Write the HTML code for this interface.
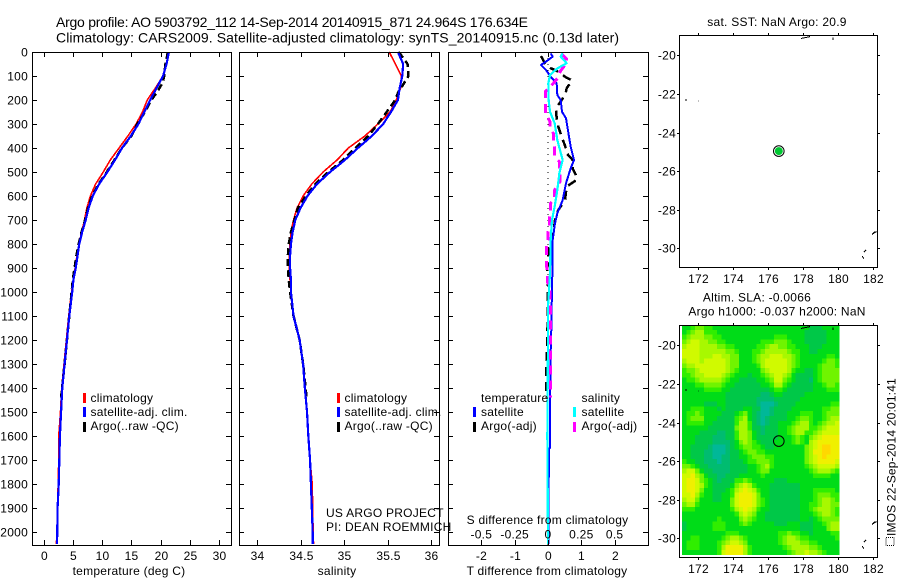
<!DOCTYPE html>
<html><head><meta charset="utf-8">
<style>
html,body{margin:0;padding:0;background:#fff}
svg{display:block}
text{font-family:"Liberation Sans",sans-serif;font-size:12px;letter-spacing:.25px;fill:#000}
</style></head>
<body>
<svg id="root" xmlns="http://www.w3.org/2000/svg" width="900" height="580" viewBox="0 0 900 580">
  <rect width="900" height="580" fill="#fff"/>
  <text x="56" y="27" textLength="472" style="font-size:14px;letter-spacing:0">Argo profile: AO 5903792_112 14-Sep-2014 20140915_871 24.964S 176.634E</text>
  <text x="56" y="42.5" textLength="563" style="font-size:14px;letter-spacing:0">Climatology: CARS2009. Satellite-adjusted climatology: synTS_20140915.nc (0.13d later)</text>

  <g id="p1"></g>
  <g id="p2"></g>
  <g id="p3"></g>
  <g id="m1"></g>
  <g id="m2"></g>

  <text x="129" y="575" text-anchor="middle">temperature (deg C)</text>
  <text x="337" y="575" text-anchor="middle">salinity</text>
  <text x="547" y="575" text-anchor="middle">T difference from climatology</text>
  <text x="547.5" y="524" text-anchor="middle">S difference from climatology</text>

  <g>
    <rect x="83" y="393" width="3" height="10" fill="#f00"/>
    <text x="90.5" y="402">climatology</text>
    <rect x="83" y="407" width="3" height="10" fill="#00f"/>
    <text x="90.5" y="416">satellite-adj. clim.</text>
    <rect x="83" y="422" width="3" height="10" fill="#000"/>
    <text x="90.5" y="430">Argo(..raw -QC)</text>
  </g>
  <g>
    <rect x="337" y="393" width="3" height="10" fill="#f00"/>
    <text x="344.5" y="402">climatology</text>
    <rect x="337" y="407" width="3" height="10" fill="#00f"/>
    <text x="344.5" y="416">satellite-adj. clim.</text>
    <rect x="337" y="422" width="3" height="10" fill="#000"/>
    <text x="344.5" y="430">Argo(..raw -QC)</text>
  </g>
  <text x="326" y="517">US ARGO PROJECT</text>
  <text x="326" y="531">PI: DEAN ROEMMICH</text>

  <g id="difflegend">
    <text x="481" y="402">temperature</text>
    <rect x="473" y="407" width="3" height="10" fill="#00f"/>
    <text x="481" y="416">satellite</text>
    <rect x="473" y="422" width="3" height="10" fill="#000"/>
    <text x="481" y="430">Argo(-adj)</text>
    <text x="581.5" y="402">salinity</text>
    <rect x="573" y="407" width="3" height="10" fill="#0ff"/>
    <text x="581.5" y="416">satellite</text>
    <rect x="573" y="422" width="3" height="10" fill="#f0f"/>
    <text x="581.5" y="430">Argo(-adj)</text>
  </g>

  <text x="777" y="26" text-anchor="middle">sat. SST: NaN Argo: 20.9</text>
  <text x="757" y="301.5" text-anchor="middle">Altim. SLA: -0.0066</text>
  <text x="777" y="315.5" text-anchor="middle">Argo h1000: -0.037 h2000: NaN</text>

  <g transform="translate(895.5,546) rotate(-90)">
    <rect x="0.5" y="-9.5" width="8" height="8" fill="none" stroke="#000" stroke-width="1" stroke-dasharray="1 1"/>
    <text x="10" y="0" textLength="158">IMOS 22-Sep-2014 20:01:41</text>
  </g>
</svg>
<script>
// ---- profile data (depth in m) ----
const depthLevels = [0,50,100,150,200,250,300,350,400,450,500,550,600,650,700,750,800,850,900,950,1000,1100,1200,1300,1400,1500,1600,1700,1800,1900,2000,2050];
const tempClim = [21.3,21.0,20.4,19.1,17.7,16.9,15.8,14.4,12.9,11.4,10.2,8.9,8.0,7.4,7.0,6.5,6.1,5.7,5.4,5.1,4.8,4.3,3.9,3.5,3.1,2.9,2.6,2.6,2.5,2.4,2.3,2.2];
const tempSat = [21.4,21.0,20.4,19.3,18.2,17.2,16.2,14.9,13.4,12.2,10.9,9.5,8.4,7.7,7.2,6.6,6.1,5.8,5.5,5.1,4.9,4.4,4.0,3.6,3.2,3.0,2.8,2.7,2.6,2.4,2.35,2.3];
const salClim = [35.52,35.59,35.66,35.65,35.60,35.53,35.39,35.24,35.05,34.92,34.76,34.63,34.53,34.46,34.42,34.39,34.38,34.37,34.37,34.38,34.39,34.42,34.49,34.53,34.55,34.575,34.59,34.61,34.635,34.64,34.645,34.65];
const salSat = [35.62,35.68,35.67,35.64,35.62,35.54,35.45,35.32,35.16,35.01,34.84,34.69,34.58,34.50,34.44,34.41,34.39,34.38,34.38,34.39,34.39,34.42,34.49,34.53,34.55,34.575,34.59,34.61,34.62,34.63,34.64,34.64];
const argoDepths = [0,30,50,100,130,170,200,250,300,350,400,450,500,550,600,650,700,750,800,850,900,950,1000,1100,1200,1300,1440];
const tempArgo = [21.2,21.0,20.8,20.6,20.3,19.3,18.4,17.3,16.0,15.0,13.4,12.1,10.8,9.4,8.3,7.6,7.1,6.5,6.0,5.6,5.3,5.0,4.8,4.4,4.0,3.6,3.0];
const salArgo = [35.63,35.69,35.73,35.74,35.69,35.62,35.59,35.49,35.39,35.28,35.13,34.99,34.82,34.67,34.56,34.47,34.43,34.39,34.365,34.355,34.355,34.365,34.38,34.42,34.49,34.53,34.57];

// ---- difference panel data ----
const satTDepths = [6,19,33,54,75,103,131,179,200,249,276,353,394,450,485,547,617,672,714,783,922,1061,1103,1300,1650,1651,2000,2050];
const satTDiff = [0.08,0.14,0.01,-0.21,-0.06,0.08,0.26,0.28,0.38,0.42,0.54,0.63,0.68,0.78,0.68,0.54,0.44,0.28,0.21,0.14,0.13,0.11,0.11,0.07,0.06,0.03,0.01,0.01];
const argoTDepths = [17,47,68,82,103,119,151,165,186,221,242,276,311,353,394,422,450,485,513,533,561,617,658,700,756,825,908,1000,1200,1340,1440];
const argoTDiff = [-0.21,-0.09,0.09,0.31,0.51,0.72,0.56,0.54,0.48,0.31,0.24,0.26,0.31,0.41,0.52,0.56,0.74,0.74,0.84,0.86,0.56,0.51,0.31,0.21,0.16,0.01,-0.02,0,-0.02,-0.06,-0.06];
const satSDepths = [6,19,47,68,96,131,200,249,297,367,450,506,575,644,700,783,922,1061,1200,1600,2050];
const satSDiff = [0.11,0.095,0.14,0.07,0.015,0.0025,0.005,0.015,0.05,0.07,0.11,0.085,0.07,0.05,0.03,0.02,0.015,0,0,-0.005,0];
const argoSDepths = [6,30,45,82,103,131,165,200,228,256,290,318,339,374,401,436,457,485,512,540,575,610,630,665,686,728,749,783,811,846,867,894,922,957,978,1019,1061,1103,1300,1440];
const argoSDiff = [0.10,0.14,0.14,0.09,0.08,0.04,-0.02,-0.02,-0.02,-0.02,0.015,0.015,0.04,0.04,0.05,0.05,0.085,0.085,0.09,0.09,0.05,0.05,0.02,0.02,0.01,0.01,0,0,-0.01,-0.01,-0.01,-0.01,-0.005,-0.005,0.015,0.015,0.02,0.02,0.02,0.02];

// ---- tick labels ----
const depthTicks = [0,100,200,300,400,500,600,700,800,900,1000,1100,1200,1300,1400,1500,1600,1700,1800,1900,2000];
const tempTicks = [0,5,10,15,20,25,30];
const salTicks = [34,34.5,35,35.5,36];
const tDiffTicks = [-2,-1,0,1,2];
const sDiffTicks = [-0.5,-0.25,0,0.25,0.5];
const lonTicks = [172,174,176,178,180,182];
const latTicks = [-20,-22,-24,-26,-28,-30];

// ---- map data ----
const floatLon = [176.634];
const floatLat = [-24.964];
const coastLons = [[177.9,178.2,178.42],[179.73,179.73],[171.27,171.39],[172.02,172.05],[181.96,182.1,182.19,182.0],[181.62,181.5],[181.4,181.5]];
const coastLats = [[-19.13,-19.07,-19.03],[-19.08,-19.2],[-22.32,-22.32],[-22.37,-22.37],[-29.3,-29.15,-29.15,-29.25],[-30.09,-30.2],[-30.4,-30.55]];
const slaPalette = ['#00b898','#00bc70','#00c848','#00dc18','#30ee00','#70f400','#a8f800','#d0fa00','#f0f000','#ffd800'];
const slaLevels = [
[3,3,4,5,5,4,4,3,3,3,3,3,3,3,3,3,3,3,3,3,3,3,3,3,3,3,3,3,3,2,2,2,3,3,3,3],
[3,4,5,6,6,4,4,4,3,3,3,3,3,3,3,3,3,3,3,3,3,3,3,3,3,3,3,3,2,2,2,2,2,3,3,3],
[4,5,6,6,6,5,5,4,4,3,3,3,3,3,3,3,3,3,3,3,3,4,4,4,3,3,3,3,2,2,2,2,2,3,3,3],
[5,6,7,7,6,6,5,5,4,4,3,3,3,3,3,3,3,3,4,4,4,5,5,5,4,3,3,3,2,2,2,2,2,3,3,3],
[6,7,7,7,6,6,6,6,5,5,4,4,3,3,3,3,3,4,4,5,6,6,5,5,4,4,3,3,3,2,2,2,3,3,3,3],
[7,7,7,7,6,6,6,6,6,6,5,5,4,3,3,3,4,4,5,6,6,6,6,6,5,4,4,3,3,2,2,3,3,3,3,3],
[7,7,7,7,6,6,6,7,7,6,6,5,5,3,3,3,4,5,6,6,7,7,7,6,6,5,4,3,3,3,3,3,3,4,4,3],
[6,7,7,7,6,7,7,7,7,7,6,5,5,3,3,3,4,5,6,7,7,7,7,7,6,5,4,3,3,3,3,3,4,5,5,4],
[5,6,6,7,7,7,7,7,7,7,6,5,5,3,3,3,3,4,6,7,7,7,7,7,6,5,4,3,3,3,3,4,5,5,5,4],
[4,5,5,6,7,7,7,7,7,7,6,5,4,3,3,3,3,3,5,6,7,7,7,7,6,4,3,3,2,2,3,4,5,5,5,5],
[4,4,5,6,6,7,7,7,7,6,5,4,3,3,3,2,3,3,4,5,6,7,7,6,5,3,2,2,2,2,3,4,5,5,5,5],
[3,4,4,5,6,6,6,6,6,5,4,3,3,2,2,2,2,3,3,4,5,7,7,5,4,3,2,2,2,1,3,4,5,5,5,5],
[3,3,3,4,4,5,5,5,5,4,3,3,2,2,2,2,2,2,3,3,4,6,6,4,3,2,2,2,2,2,3,3,4,5,5,4],
[3,3,3,3,3,4,4,4,4,3,3,2,2,2,2,2,2,2,2,2,3,4,4,3,2,2,2,2,2,2,3,3,3,4,4,4],
[3,3,3,3,3,3,3,3,3,3,2,2,2,2,2,2,2,2,1,1,2,3,3,2,2,2,2,2,3,3,3,3,3,3,3,3],
[3,3,3,3,3,3,3,3,3,3,2,2,2,2,2,2,2,1,1,1,1,2,2,2,2,2,2,3,3,3,3,3,3,3,3,3],
[3,3,3,3,3,2,2,2,3,3,2,2,2,2,2,2,2,1,0,0,0,1,2,2,2,2,3,3,3,3,3,3,3,3,4,4],
[3,3,4,4,4,3,3,3,2,3,2,2,2,2,3,3,2,2,0,0,1,2,2,2,2,3,3,3,3,3,3,3,4,4,5,5],
[3,4,4,5,4,3,3,3,3,2,2,2,3,4,5,3,2,1,0,0,1,2,2,2,3,3,3,4,4,4,3,3,4,5,5,5],
[3,4,5,5,5,3,3,3,2,2,2,2,4,5,6,3,2,1,0,1,2,2,2,2,3,3,4,5,5,4,3,3,4,5,6,6],
[3,4,4,4,4,3,3,2,2,2,2,2,4,6,6,4,2,1,0,1,2,2,3,3,3,4,5,6,6,4,3,4,5,6,6,7],
[3,3,3,3,3,3,2,2,2,2,2,2,5,6,6,4,2,2,1,2,2,2,3,3,4,5,6,6,6,4,4,5,6,7,7,7],
[3,3,3,3,2,2,2,2,1,1,2,2,4,6,6,5,3,2,1,2,2,2,3,3,4,5,6,6,4,4,5,6,7,7,7,7],
[3,3,3,2,2,2,2,1,1,1,2,2,4,6,6,5,3,2,2,2,2,2,3,3,3,4,5,4,3,5,6,7,8,8,8,8],
[3,3,3,2,2,2,2,1,1,1,1,2,3,5,6,5,4,3,2,2,2,3,3,3,3,4,5,4,3,6,7,8,8,8,8,8],
[3,3,2,2,2,2,1,0,0,0,1,2,3,4,5,5,4,4,3,2,2,3,3,3,3,3,3,3,5,6,7,8,9,9,8,8],
[3,3,2,2,2,1,1,0,0,0,1,2,2,3,4,5,5,4,4,3,3,3,3,3,3,3,3,3,5,6,8,8,9,9,8,8],
[3,3,2,2,2,1,1,0,0,1,1,2,2,3,3,4,5,5,5,4,4,3,3,3,3,3,3,3,5,6,7,8,9,8,8,8],
[4,3,3,2,2,1,1,1,0,1,1,2,2,2,3,4,4,5,5,5,4,3,3,3,3,3,3,3,5,6,7,8,8,8,8,7],
[5,5,4,3,2,2,1,1,1,1,1,2,2,2,2,3,3,4,5,6,4,3,3,3,3,3,3,3,4,5,6,7,7,7,7,6],
[6,7,7,5,3,2,2,1,1,1,1,2,2,2,2,3,3,4,5,5,3,3,3,3,3,3,3,3,3,4,5,6,6,6,5,4],
[7,7,8,6,5,3,2,2,1,1,2,2,2,3,3,3,3,3,4,3,3,3,3,3,3,3,3,3,3,3,4,4,4,4,3,3],
[7,8,8,7,5,4,3,2,1,2,2,2,4,4,5,4,3,3,3,3,3,2,2,2,3,3,3,3,3,3,3,3,3,3,3,3],
[7,8,8,7,6,4,3,2,2,2,2,3,5,6,7,6,4,3,3,3,2,2,2,2,2,2,2,3,3,3,3,3,3,3,3,3],
[7,8,8,7,5,3,3,2,2,2,3,4,6,7,8,7,6,4,3,3,2,2,2,2,2,2,2,3,3,3,4,4,4,4,4,3],
[7,7,8,6,4,3,3,2,2,3,3,4,7,8,8,8,7,5,3,3,2,2,2,2,2,2,2,3,3,3,4,5,5,5,4,4],
[6,7,7,5,3,3,3,2,2,3,3,5,7,8,8,8,7,5,4,3,2,2,2,2,2,2,2,3,3,3,4,5,6,6,5,4],
[5,6,6,4,3,3,3,3,3,3,3,5,7,8,8,8,7,5,4,3,2,2,2,2,2,2,2,3,3,4,4,5,6,6,5,5],
[4,4,4,3,3,3,3,3,3,3,3,4,6,7,8,7,6,4,3,3,2,2,2,2,2,2,2,3,3,4,5,6,6,6,5,4],
[3,3,3,3,3,3,3,3,3,3,3,3,4,6,7,6,5,3,3,2,2,2,2,2,2,2,2,3,3,3,4,5,6,6,5,4],
[3,3,3,3,3,3,3,3,4,3,3,3,3,5,6,5,4,3,3,2,2,2,2,2,2,2,2,3,3,2,3,4,5,5,5,5],
[2,3,3,3,3,3,3,4,4,4,3,3,3,4,5,4,3,3,3,3,3,2,2,2,3,3,3,2,2,2,3,3,4,5,6,6],
[2,3,3,3,3,3,3,4,4,4,3,3,3,3,3,3,3,3,3,3,3,3,3,3,3,3,3,2,2,2,3,3,3,5,6,6],
[3,3,3,3,3,3,3,3,3,3,4,4,4,3,3,3,3,3,3,3,3,3,4,4,5,4,4,3,3,2,3,3,3,3,4,4],
[3,3,4,4,3,3,3,3,3,4,5,6,6,5,4,3,3,3,3,3,3,3,4,5,6,6,5,4,4,3,3,3,3,3,3,4],
[3,4,4,4,3,3,3,3,4,5,6,7,7,6,5,3,3,3,3,3,3,3,4,5,6,6,6,5,5,4,4,3,3,3,3,3],
[3,4,4,4,3,3,3,3,4,6,8,8,8,8,6,4,3,3,3,3,3,3,3,4,5,6,6,6,6,5,5,4,3,3,3,3],
[3,3,3,3,3,3,3,3,4,7,8,8,8,8,6,4,3,3,3,3,3,3,3,3,4,5,6,6,7,6,6,5,4,3,3,3]
];

// ---- scales ----
const SVGNS = 'http://www.w3.org/2000/svg';
const yDepth = d => 52 + 0.24 * d;
const xTemp = v => 43.5 + 5.86 * v;
const xSal = v => 257 + 87 * (v - 34);
const xTDiff = v => 548 + 33.33 * v;
const xSDiff = v => 548 + 133.3 * v;
const xLon = v => 697.7 + (v - 172) * 17.5;
const yLatTop = v => 55.3 + (-20 - v) * 19.3;
const yLatBot = v => 345.3 + (-20 - v) * 19.3;

function mk(parent, tag, name, attrs) {
  const el = document.createElementNS(SVGNS, tag);
  for (const k in attrs) el.setAttribute(k, attrs[k]);
  
  
  parent.appendChild(el);
  return el;
}
function tickLine(parent, x1, y1, x2, y2) {
  mk(parent, 'line', 'tick', {x1, y1, x2, y2, stroke: '#000', 'stroke-width': 1, 'shape-rendering': 'crispEdges'});
}
function label(parent, x, y, str, anchor) {
  const t = mk(parent, 'text', 'tick-label', {x, y, 'text-anchor': anchor});
  t.textContent = str;
}
function box(parent, x, y, w, h) {
  mk(parent, 'rect', 'axes-box', {x: x + 0.5, y: y + 0.5, width: w, height: h, fill: 'none', stroke: '#000', 'stroke-width': 1, 'shape-rendering': 'crispEdges'});
}
function series(parent, name, xs, ys, xf, color, width, dash) {
  const pts = xs.map((v, i) => xf(v).toFixed(2) + ',' + yDepth(ys[i]).toFixed(2)).join(' ');
  const attrs = {points: pts, fill: 'none', stroke: color, 'stroke-width': width, 'shape-rendering': 'crispEdges', 'stroke-linejoin': 'round'};
  if (dash) attrs['stroke-dasharray'] = dash;
  mk(parent, 'polyline', name, attrs);
}
function depthAxes(parent, L, R, showLabels) {
  depthTicks.forEach(d => {
    const y = Math.round(yDepth(d)) + 0.5;
    tickLine(parent, L, y, L + 5, y);
    tickLine(parent, R - 5, y, R, y);
    if (showLabels) label(parent, 28, y + 4, String(d), 'end');
  });
}
function valueTicks(parent, ticks, xf, top, bottom, labelY) {
  ticks.forEach(v => {
    const x = Math.round(xf(v)) + 0.5;
    if (top) tickLine(parent, x, 52, x, 57);
    if (bottom) tickLine(parent, x, 540, x, 545);
    if (labelY) label(parent, x, labelY, String(v), 'middle');
  });
}

// ---- temperature panel ----
const p1 = document.getElementById('p1');
series(p1, 'temperature-climatology-line', tempClim, depthLevels, xTemp, '#f00', 1.6);
series(p1, 'temperature-argo-line', tempArgo, argoDepths, xTemp, '#000', 2.5, '7 4');
series(p1, 'temperature-satellite-line', tempSat, depthLevels, xTemp, '#00f', 2.2);
box(p1, 32, 52, 199, 493);
depthAxes(p1, 32, 231, true);
valueTicks(p1, tempTicks, xTemp, true, true, 560);

// ---- salinity panel ----
const p2 = document.getElementById('p2');
series(p2, 'salinity-climatology-line', salClim, depthLevels, xSal, '#f00', 1.6);
series(p2, 'salinity-argo-line', salArgo, argoDepths, xSal, '#000', 2.5, '7 4');
series(p2, 'salinity-satellite-line', salSat, depthLevels, xSal, '#00f', 2.2);
box(p2, 239, 52, 200, 493);
depthAxes(p2, 239, 439, false);
valueTicks(p2, salTicks, xSal, true, true, 560);

// ---- difference panel ----
const p3 = document.getElementById('p3');
mk(p3, 'line', 'zero-line', {x1: xTDiff(0), y1: yDepth(0), x2: xTDiff(0), y2: yDepth(2054), stroke: '#000', 'stroke-width': 1, 'stroke-dasharray': '1 5', 'shape-rendering': 'crispEdges'});
series(p3, 't-difference-argo-line', argoTDiff, argoTDepths, xTDiff, '#000', 2.5, '9 6');
series(p3, 't-difference-satellite-line', satTDiff, satTDepths, xTDiff, '#00f', 2);
series(p3, 's-difference-argo-line', argoSDiff, argoSDepths, xSDiff, '#f0f', 3, '9 6');
series(p3, 's-difference-satellite-line', satSDiff, satSDepths, xSDiff, '#0ff', 2.2);
box(p3, 448, 52, 200, 493);
depthAxes(p3, 448, 648, false);
valueTicks(p3, tDiffTicks, xTDiff, true, true, 560);
sDiffTicks.forEach(v => label(p3, xSDiff(v), 538.5, String(v), 'middle'));

// ---- maps ----
function mapFrame(parent, top, bottom, yLat) {
  box(parent, 679, top, 198, bottom - top);
  lonTicks.forEach(v => {
    const x = Math.round(xLon(v)) + 0.5;
    tickLine(parent, x, top - 2, x, top);
    tickLine(parent, x, bottom + 1, x, bottom + 3);
    label(parent, x, bottom + 16, String(v), 'middle');
  });
  latTicks.forEach(v => {
    const y = Math.round(yLat(v)) + 0.5;
    tickLine(parent, 677, y, 679, y);
    tickLine(parent, 878, y, 880, y);
    label(parent, 676, y + 4, String(v), 'end');
  });
}
function coast(parent, yLat) {
  coastLons.forEach((lons, i) => {
    const pts = lons.map((lon, j) => xLon(lon).toFixed(1) + ',' + yLat(coastLats[i][j]).toFixed(1)).join(' ');
    mk(parent, 'polyline', 'coastline', {points: pts, fill: 'none', stroke: '#000', 'stroke-width': 1, 'shape-rendering': 'crispEdges'});
  });
}

const m1 = document.getElementById('m1');
mapFrame(m1, 35, 267, yLatTop);
coast(m1, yLatTop);
mk(m1, 'circle', 'float-position-ring', {cx: xLon(floatLon[0]), cy: yLatTop(floatLat[0]), r: 5.3, fill: 'none', stroke: '#000', 'stroke-width': 1});
mk(m1, 'circle', 'float-position-marker', {cx: xLon(floatLon[0]), cy: yLatTop(floatLat[0]), r: 4, fill: '#00c832'});

const m2 = document.getElementById('m2');
const cellLon0 = 171.1, cellLat0 = -18.95, cellLonStep = 0.25, cellLatStep = 0.248;
slaLevels.forEach((row, r) => {
  row.forEach((lvl, c) => {
    const x0 = xLon(cellLon0 + c * cellLonStep), x1 = xLon(cellLon0 + (c + 1) * cellLonStep);
    const y0 = yLatBot(cellLat0 - r * cellLatStep), y1 = yLatBot(cellLat0 - (r + 1) * cellLatStep);
    mk(m2, 'rect', 'sla-cell', {x: x0.toFixed(2), y: y0.toFixed(2), width: (x1 - x0 + 0.3).toFixed(2), height: (y1 - y0 + 0.3).toFixed(2), fill: slaPalette[lvl], 'shape-rendering': 'crispEdges'});
  });
});
mapFrame(m2, 325, 557, yLatBot);
coast(m2, yLatBot);
mk(m2, 'circle', 'float-position-marker', {cx: xLon(floatLon[0]), cy: yLatBot(floatLat[0]), r: 5.3, fill: 'none', stroke: '#000', 'stroke-width': 1});
</script>
</body></html>
